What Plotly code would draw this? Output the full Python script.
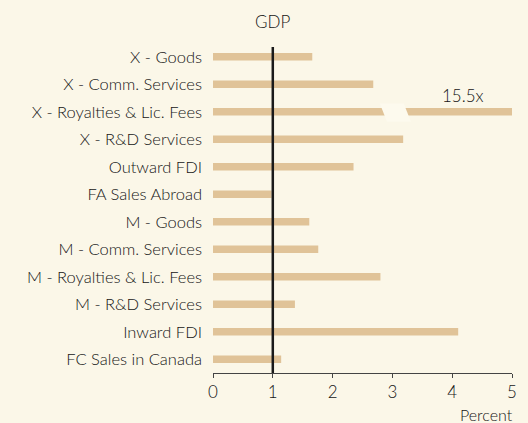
import plotly.graph_objects as go

categories = ["X - Goods", "X - Comm. Services", "X - Royalties & Lic. Fees",
              "X - R&D Services", "Outward FDI", "FA Sales Abroad",
              "M - Goods", "M - Comm. Services", "M - Royalties & Lic. Fees",
              "M - R&D Services", "Inward FDI", "FC Sales in Canada"]
values = [1.66, 2.68, 15.5, 3.18, 2.35, 0.98, 1.61, 1.76, 2.80, 1.37, 4.10, 1.14]
gdp_ratio = 1.0
axis_max = 5
tick_vals = [0, 1, 2, 3, 4, 5]
break_label = "15.5x"
break_at = 3.05

BG = "#fbf7e8"
BAR = "#e0c398"
TXT = "#151515"
FONT = "Lato"
W = 300

shown = [min(v, axis_max) for v in values]

fig = go.Figure()
fig.add_trace(go.Bar(
    y=categories, x=shown, orientation="h",
    marker=dict(color=BAR, line=dict(width=0)),
    width=0.28, hoverinfo="skip"
))

# GDP reference line
fig.add_shape(type="line", xref="x", yref="y domain",
              x0=gdp_ratio, x1=gdp_ratio, y0=0, y1=0.988,
              line=dict(color="#1a1a1a", width=2.5), layer="above")
fig.add_annotation(x=gdp_ratio, y=1.0, xref="x", yref="paper",
                   yshift=9, yanchor="bottom",
                   text="GDP", showarrow=False,
                   font=dict(family=FONT, size=17, color=TXT, weight=W))

# axis break on the out-of-range bar
for i, v in enumerate(values):
    if v > axis_max:
        c = categories[i]
        idx = i
        fig.add_shape(type="path", xref="x", yref="y",
                      path=(f"M {break_at-0.26},{idx-0.3} L {break_at+0.14},{idx-0.3} "
                            f"L {break_at+0.26},{idx+0.36} L {break_at-0.14},{idx+0.36} Z"),
                      fillcolor="#fdfaee", line=dict(width=0), layer="above")
        fig.add_annotation(x=4.18, y=c, xref="x", yref="y", yshift=16,
                           text=break_label, showarrow=False,
                           font=dict(family=FONT, size=17, color=TXT, weight=W))

fig.add_annotation(x=1, y=0, xref="paper", yref="paper",
                   xanchor="right", yanchor="top", yshift=-30, xshift=3,
                   text="Percent", showarrow=False,
                   font=dict(family=FONT, size=16, color=TXT, weight=W))

fig.update_layout(
    width=528, height=423,
    paper_bgcolor=BG, plot_bgcolor=BG,
    margin=dict(l=213, r=16, t=43, b=50),
    showlegend=False,
    font=dict(family=FONT, size=16, color=TXT, weight=W),
    xaxis=dict(range=[0, axis_max], tickvals=tick_vals, showgrid=False,
               zeroline=False, showline=True, linecolor="#444444", linewidth=1,
               ticks="outside", ticklen=4, tickcolor="#444444",
               tickfont=dict(family=FONT, size=17, color=TXT, weight=W), fixedrange=True),
    yaxis=dict(categoryorder="array", categoryarray=categories,
               autorange="reversed", showgrid=False, zeroline=False,
               showline=False, ticks="", ticklabelstandoff=10,
               tickfont=dict(family=FONT, size=16.5, color=TXT, weight=W), fixedrange=True),
)

fig.write_html("out.html", config={"displayModeBar": False},
               post_script=f"document.body.style.margin='0';document.body.style.background='{BG}';")
